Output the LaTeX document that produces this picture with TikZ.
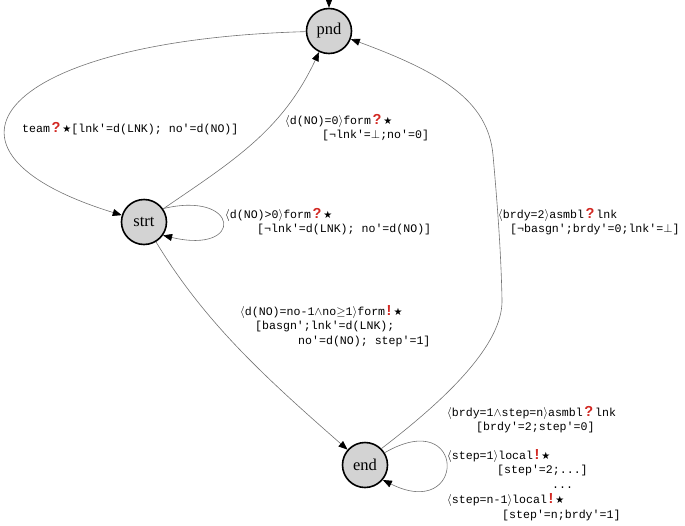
\documentclass[tikz,border=0pt]{standalone}
\usepackage{fontspec}
\setmainfont{Liberation Serif}
\setsansfont{Liberation Sans}
\setmonofont{Liberation Mono}
\newfontfamily\symfont{DejaVu Sans}
\usetikzlibrary{arrows.meta}
\definecolor{stategray}{RGB}{211,211,211}
\definecolor{markred}{RGB}{210,40,34}
\newcommand\qmark{\kern1.5pt{\color{markred}\sffamily\bfseries\fontsize{14.5}{14.8}\selectfont ?}\kern2pt}
\newcommand\emark{\kern1.5pt{\color{markred}\sffamily\bfseries\fontsize{14.5}{14.8}\selectfont !}\kern2pt}
\newcommand\bstar{{\symfont\fontsize{10}{14.8}\selectfont ★}}
\newcommand\gopen{$\langle$}
\newcommand\gclose{$\rangle$}

\begin{document}
\begin{tikzpicture}[
    x=1pt, y=-1pt,
    state/.style={circle, draw, line width=1.6pt, fill=stategray,
                  minimum size=45pt, inner sep=0pt,
                  font=\fontsize{16.5}{16.5}\selectfont},
    lbl/.style={anchor=base west, inner sep=0pt, align=left,
                font=\ttfamily\fontsize{11.6}{14.8}\selectfont},
    edge/.style={draw=black!55, line width=0.6pt,
                 -{Triangle[length=9pt, width=7pt, color=black]}}
]
\useasboundingbox (0,0) rectangle (685,525);

% States
\node[state] (pnd)  at (329, 31)  {pnd};
\node[state] (strt) at (144, 222) {strt};
\node[state] (end)  at (365, 465) {end};
\coordinate (init) at (329, 0);

% Transitions
\draw[edge] (init) -- (pnd);
\draw[edge] (pnd) .. controls (0,40) and (-90,150) .. (strt);
\draw[edge] (strt) .. controls (233,161) and (282,131) .. (pnd);
\draw[edge] (strt.35) .. controls (240,190) and (245,255) .. (strt.-35);
\draw[edge] (strt) .. controls (205,323) and (267,379) .. (end);
\draw[edge] (end.45) .. controls (445,400) and (503,345) .. (502,300)
            .. controls (501,250) and (497,200) .. (493,155)
            .. controls (488,100) and (440,72) .. (pnd);
\draw[edge] (end.32) .. controls (467,405) and (467,522) .. (end.-40);

% Labels (anchored on the baseline of their last line)
\node[lbl] (teamL) at (22,132)
  {team\qmark\bstar[lnk'=d(LNK); no'=d(NO)]};
\node[lbl] (formZeroL) at (285,138.8)
  {\gopen d(NO)=0\gclose form\qmark\bstar\\
   \hspace*{37pt}[¬lnk'=$\bot$;no'=0]};
\node[lbl] (formPosL) at (225,232.8)
  {\gopen d(NO)>0\gclose form\qmark\bstar\\
   \hspace*{32pt}[¬lnk'=d(LNK); no'=d(NO)]};
\node[lbl] (formOneL) at (240,344.6)
  {\gopen d(NO)=no-1$\wedge$no$\geq$1\gclose form\emark\bstar\\
   \hspace*{15pt}[basgn';lnk'=d(LNK);\\
   \hspace*{58pt}no'=d(NO); step'=1]};
\node[lbl] (asmblTwoL) at (498,232.8)
  {\gopen brdy=2\gclose asmbl\qmark lnk\\
   \hspace*{12pt}[¬basgn';brdy'=0;lnk'=$\bot$]};
\node[lbl] (asmblOneL) at (447,430.8)
  {\gopen brdy=1$\wedge$step=n\gclose asmbl\qmark lnk\\
   \hspace*{29pt}[brdy'=2;step'=0]};
\node[lbl] (localL) at (447,518.2)
  {\gopen step=1\gclose local\emark\bstar\\
   \hspace*{50pt}[step'=2;...]\\
   \hspace*{105pt}...\\
   \gopen step=n-1\gclose local\emark\bstar\\
   \hspace*{55pt}[step'=n;brdy'=1]};
\end{tikzpicture}
\end{document}
